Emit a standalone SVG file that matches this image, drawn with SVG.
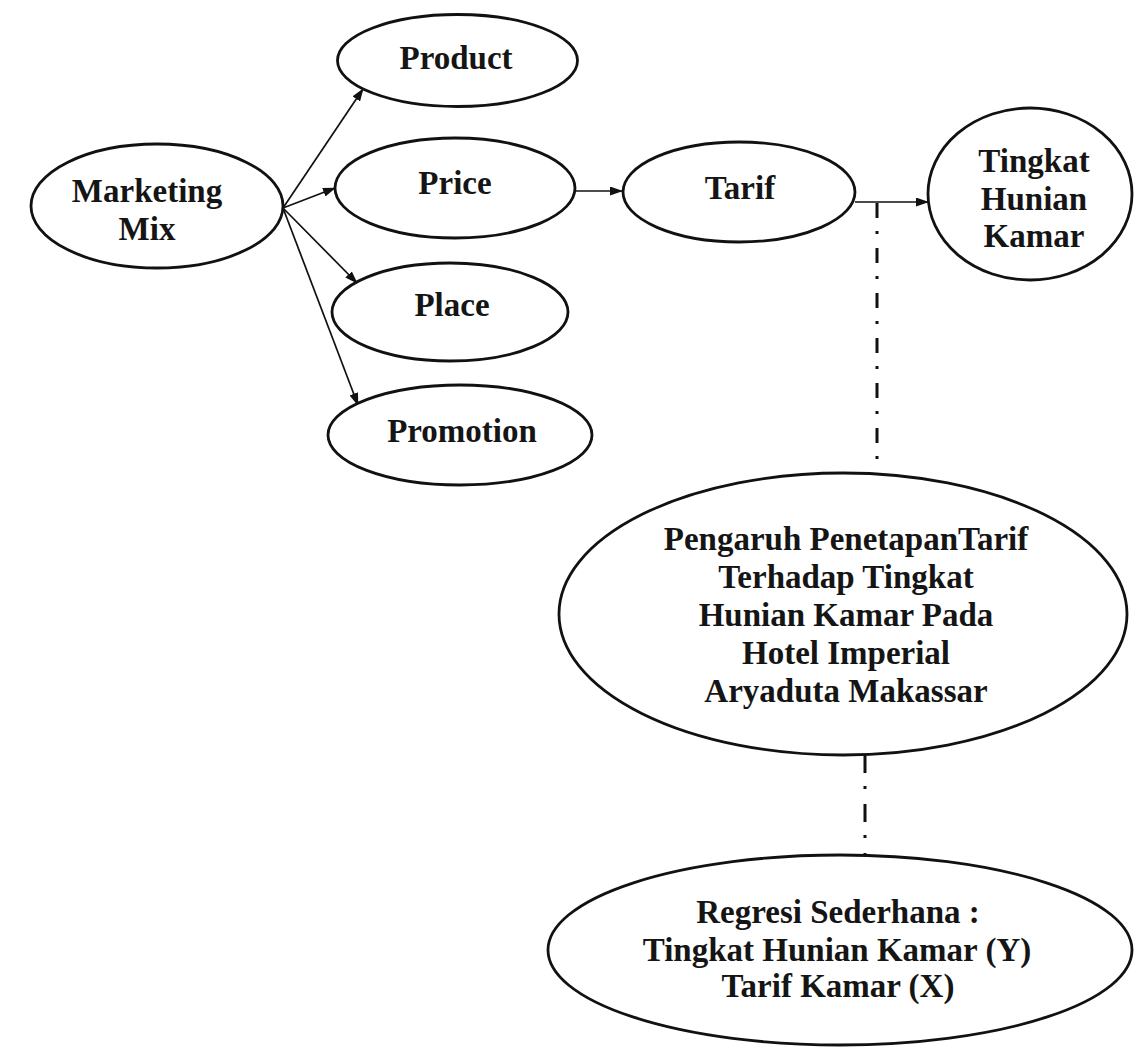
<svg xmlns="http://www.w3.org/2000/svg" width="1138" height="1049" viewBox="0 0 1138 1049">
<style>
.n{fill:#fff;stroke:#111;stroke-width:2.8}
.t{font-family:"Liberation Serif","Times New Roman",serif;font-weight:bold;font-size:33px;fill:#151515;text-anchor:middle}
.c{fill:none;stroke:#111;stroke-width:1.7}
.d{fill:none;stroke:#111;stroke-width:3}
</style>
<defs>
<marker id="ah" markerUnits="userSpaceOnUse" markerWidth="13" markerHeight="9" refX="12" refY="4.5" orient="auto">
<path d="M0,0 L13,4.5 L0,9 z" fill="#111"/>
</marker>
</defs>
<rect width="1138" height="1049" fill="#fff"/>
<g id="connectors">
<line class="c" x1="283" y1="208" x2="363" y2="89" marker-end="url(#ah)"/>
<line class="c" x1="283" y1="208" x2="335" y2="188" marker-end="url(#ah)"/>
<line class="c" x1="283" y1="208" x2="357" y2="283" marker-end="url(#ah)"/>
<line class="c" x1="283" y1="208" x2="358" y2="405" marker-end="url(#ah)"/>
<line class="c" x1="575" y1="191" x2="622" y2="191" marker-end="url(#ah)"/>
<line class="c" x1="855" y1="202" x2="928" y2="202" marker-end="url(#ah)"/>
<line class="d" x1="877" y1="203" x2="877" y2="470" stroke-dasharray="15 13 3 14"/>
<line class="d" x1="865" y1="755" x2="865" y2="856" stroke-dasharray="18 13 3 15"/>
</g>
<g id="marketing-mix">
<ellipse class="n" cx="157" cy="206" rx="126" ry="62"/>
<text class="t" x="147" y="202">Marketing</text>
<text class="t" x="147" y="240">Mix</text>
</g>
<g id="product">
<ellipse class="n" cx="457.5" cy="60.5" rx="120" ry="46"/>
<text class="t" x="456" y="69">Product</text>
</g>
<g id="price">
<ellipse class="n" cx="455" cy="188" rx="120" ry="50"/>
<text class="t" x="455" y="194">Price</text>
</g>
<g id="place">
<ellipse class="n" cx="450" cy="312" rx="118" ry="49"/>
<text class="t" x="452" y="316">Place</text>
</g>
<g id="promotion">
<ellipse class="n" cx="460" cy="435" rx="132" ry="50"/>
<text class="t" x="462" y="442">Promotion</text>
</g>
<g id="tarif">
<ellipse class="n" cx="739" cy="192" rx="116" ry="50"/>
<text class="t" x="740" y="199">Tarif</text>
</g>
<g id="tingkat-hunian-kamar">
<ellipse class="n" cx="1030" cy="194" rx="102" ry="86"/>
<text class="t" x="1034" y="172">Tingkat</text>
<text class="t" x="1034" y="210">Hunian</text>
<text class="t" x="1034" y="247">Kamar</text>
</g>
<g id="pengaruh">
<ellipse class="n" cx="843" cy="614" rx="284" ry="141"/>
<text class="t" x="846" y="550">Pengaruh PenetapanTarif</text>
<text class="t" x="846" y="588">Terhadap Tingkat</text>
<text class="t" x="846" y="626">Hunian Kamar Pada</text>
<text class="t" x="846" y="664">Hotel Imperial</text>
<text class="t" x="846" y="702">Aryaduta Makassar</text>
</g>
<g id="regresi">
<ellipse class="n" cx="840" cy="950" rx="292" ry="95"/>
<text class="t" x="838" y="923">Regresi Sederhana :</text>
<text class="t" x="837" y="961">Tingkat Hunian Kamar (Y)</text>
<text class="t" x="838" y="997">Tarif Kamar (X)</text>
</g>
</svg>
